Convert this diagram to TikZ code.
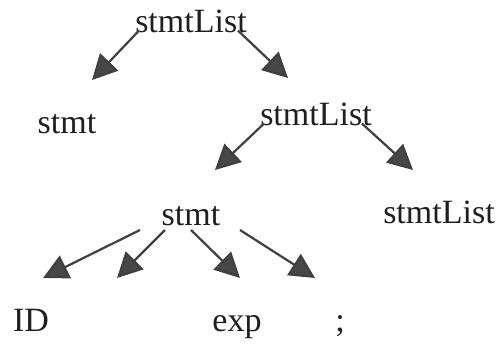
\documentclass[tikz,border=0pt]{standalone}
\usepackage{fontspec}
\setmainfont{Liberation Serif}
\usepackage{tikz}
\usepackage{xcolor}
\usetikzlibrary{arrows.meta}

\begin{document}
\begin{tikzpicture}[x=1pt,y=-1pt,
  word/.style={anchor=base,inner sep=0pt,text=black!88,font=\fontsize{34}{40}\selectfont},
  arr/.style={draw=black!75,line width=2.2pt,-{Triangle[length=25pt,width=25pt,fill=black!72]}}]
\definecolor{paper}{HTML}{FFFFFF}
\useasboundingbox[fill=paper] (0,0) rectangle (504,346);
\node[word] (root) at (191,32) {stmtList};
\node[word] (stmtA) at (67,133) {stmt};
\node[word] (mid) at (316,125) {stmtList};
\node[word] (stmtB) at (191,225) {stmt};
\node[word] (tail) at (439,223) {stmtList};
\node[word] (id) at (31,331) {ID};
\node[word] (exp) at (237,331) {exp};
\node[word] (semi) at (340,331) {;};
\coordinate (tA) at (92,80);
\coordinate (tB) at (288,78);
\coordinate (tC) at (215,170);
\coordinate (tD) at (413,170);
\coordinate (tE) at (43,278);
\coordinate (tF) at (117,278);
\coordinate (tG) at (240,278);
\coordinate (tH) at (315,278);
\draw[arr] ([xshift=4pt,yshift=2pt]root.south west) -- (tA);
\draw[arr] ([xshift=-9pt,yshift=2pt]root.south east) -- (tB);
\draw[arr] ([xshift=4pt,yshift=2pt]mid.south west) -- (tC);
\draw[arr] ([xshift=-10pt,yshift=2pt]mid.south east) -- (tD);
  \foreach \dx/\tip in {-51/tE,-26/tF,0/tG,49/tH}
  {  \draw[arr] ([xshift=\dx pt,yshift=-5pt]stmtB.base) -- (\tip);}
\end{tikzpicture}
\end{document}
